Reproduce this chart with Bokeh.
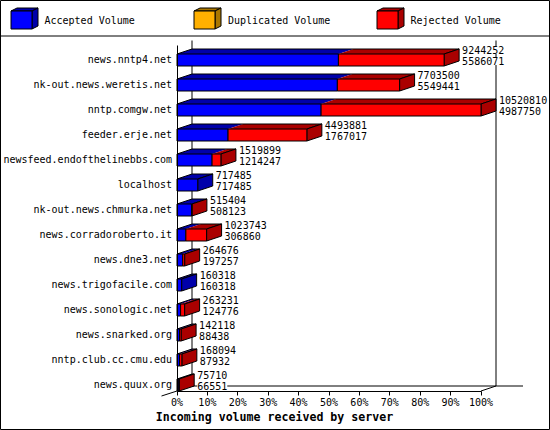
from bokeh.embed import file_html
from bokeh.resources import INLINE
from bokeh.plotting import figure
from bokeh.models import Range1d, LinearAxis, FixedTicker, PrintfTickFormatter
from bokeh.core.properties import value

hosts = ["news.nntp4.net", "nk-out.news.weretis.net", "nntp.comgw.net", "feeder.erje.net",
         "newsfeed.endofthelinebbs.com", "localhost", "nk-out.news.chmurka.net",
         "news.corradoroberto.it", "news.dne3.net", "news.trigofacile.com",
         "news.sonologic.net", "news.snarked.org", "nntp.club.cc.cmu.edu", "news.quux.org"]
total_volume = [9244252, 7703500, 10520810, 4493881, 1519899, 717485, 515404,
                1023743, 264676, 160318, 263231, 142118, 168094, 75710]
accepted_volume = [5586071, 5549441, 4987750, 1767017, 1214247, 717485, 508123,
                   306860, 197257, 160318, 124776, 88438, 87932, 66551]
legend_labels = ["Accepted Volume", "Duplicated Volume", "Rejected Volume"]
percent_ticks = [0, 10, 20, 30, 40, 50, 60, 70, 80, 90, 100]
x_title = "Incoming volume received by server"

W, H = 550, 430
FONT = "DejaVu Sans Mono"
BLUE, DBLUE = "#0000ff", "#0000aa"
ORANGE, DORANGE = "#ffb000", "#aa7700"
RED, DRED = "#ff0000", "#aa0000"

# pixel layout of the scales
X0, PX_PCT = 176.5, 3.04      # 0% position, pixels per percent
Y0, PX_ROW = 59.5, 25.0       # first row centre, pixels per row
DX, DY = 15 / PX_PCT, 5 / PX_ROW   # 3D depth in data units
HALF = 6 / PX_ROW             # half of a bar's front height


def xd(px):
    return (px - X0) / PX_PCT


def yd(px):
    return (px - Y0) / PX_ROW


p = figure(width=W, height=H, output_backend="svg", toolbar_location=None,
           x_range=Range1d(xd(0), xd(W)), y_range=Range1d(yd(H), yd(0)),
           min_border=0, min_border_left=0, min_border_right=0, min_border_top=0,
           min_border_bottom=0, x_axis_type=None, y_axis_type=None,
           background_fill_color="white", border_fill_color="white",
           outline_line_color="black", outline_line_width=1)
p.grid.visible = False

BOTTOM = 13 + HALF

# walls (behind the bars)
back_bottom = BOTTOM - DY
wall_top = yd(40)
p.segment([DX, 100 + DX, DX, 100, xd(161)],
          [back_bottom, back_bottom, back_bottom, BOTTOM, yd(395.5)],
          [DX, 100 + DX, xd(522.5), 100 + DX, 0],
          [wall_top, wall_top, back_bottom, back_bottom, BOTTOM],
          line_color="black", line_width=1)

# real axes sitting on the front of the chart
xaxis = LinearAxis(fixed_location=BOTTOM, bounds=(0, 100),
                   ticker=FixedTicker(ticks=percent_ticks),
                   formatter=PrintfTickFormatter(format="%d%%"),
                   major_tick_in=0, major_tick_out=4, minor_tick_line_color=None,
                   major_label_standoff=2, major_label_text_font=FONT,
                   major_label_text_font_size="10px", major_label_text_color="black",
                   axis_line_color="black", major_tick_line_color="black")
p.add_layout(xaxis, "below")

label_ticks = [i - 1 / PX_ROW for i in range(len(hosts))]   # labels sit 1px above the bar centre
yaxis = LinearAxis(fixed_location=0, bounds=(yd(45), BOTTOM),
                   ticker=FixedTicker(ticks=label_ticks),
                   major_label_overrides=dict(zip(label_ticks, hosts)),
                   major_tick_in=0, major_tick_out=0, minor_tick_line_color=None,
                   major_label_standoff=5, major_label_text_font=FONT,
                   major_label_text_font_size="10px", major_label_text_color="black",
                   axis_line_color="black")
p.add_layout(yaxis, "left")


def pct(v):
    return v / max(total_volume) * 100


# bars
for i, (tot, acc) in enumerate(zip(total_volume, accepted_volume)):
    a, t = pct(acc), pct(tot)
    top, bot = i - HALF, i + HALF
    # top faces
    p.patch([0, DX, a + DX, a], [top, top - DY, top - DY, top], fill_color=DBLUE, line_color=None)
    if t > a:
        p.patch([a, a + DX, t + DX, t], [top, top - DY, top - DY, top], fill_color=DRED, line_color=None)
    p.line([0, DX, t + DX, t], [top, top - DY, top - DY, top], line_color="black", line_width=1)
    # side face
    p.patch([t, t + DX, t + DX, t], [top, top - DY, bot - DY, bot],
            fill_color=DRED if t > a else DBLUE, line_color="black", line_width=1)
    # front faces
    p.quad(left=0, right=a, top=top, bottom=bot, fill_color=BLUE, line_color="black", line_width=1)
    if t > a:
        p.quad(left=a, right=t, top=top, bottom=bot, fill_color=RED, line_color="black", line_width=1)

# value labels with white boxes
lx = [pct(t) + xd(X0 + 18) for t in total_volume]
for vals, off in ((total_volume, -10), (accepted_volume, 1)):
    p.text(lx, [i + off / PX_ROW for i in range(len(hosts))], text=[str(v) for v in vals],
           text_font=value(FONT), text_font_size="10px", text_color="black",
           text_align="left", text_baseline="middle", background_fill_color="white")

# x title
p.text([xd(274)], [yd(416)], text=[x_title], text_font=value(FONT), text_font_size="11.6px",
       text_font_style="bold", text_color="black", text_align="center", text_baseline="middle")

# legend band
p.segment([xd(0)], [yd(35.5)], [xd(W)], [yd(35.5)], line_color="black", line_width=1)
for left, txt_x, label, c, d in zip((10.5, 193.5, 376.5), (44, 227.5, 410), legend_labels,
                                    (BLUE, ORANGE, RED), (DBLUE, DORANGE, DRED)):
    r, t_, b = left + 21, 10.5, 28.5
    dx, dy = 6, 3
    p.patch([xd(v) for v in (left, left + dx, r + dx, r)], [yd(v) for v in (t_, t_ - dy, t_ - dy, t_)],
            fill_color=d, line_color="black", line_width=1)
    p.patch([xd(v) for v in (r, r + dx, r + dx, r)], [yd(v) for v in (t_, t_ - dy, b - dy, b)],
            fill_color=d, line_color="black", line_width=1)
    p.quad(left=xd(left), right=xd(r), top=yd(t_), bottom=yd(b), fill_color=c,
           line_color="black", line_width=1)
    p.text([xd(txt_x)], [yd(20)], text=[label], text_font=value(FONT), text_font_size="10px",
           text_color="black", text_align="left", text_baseline="middle")

open("out.html", "w").write(file_html(p, INLINE))
